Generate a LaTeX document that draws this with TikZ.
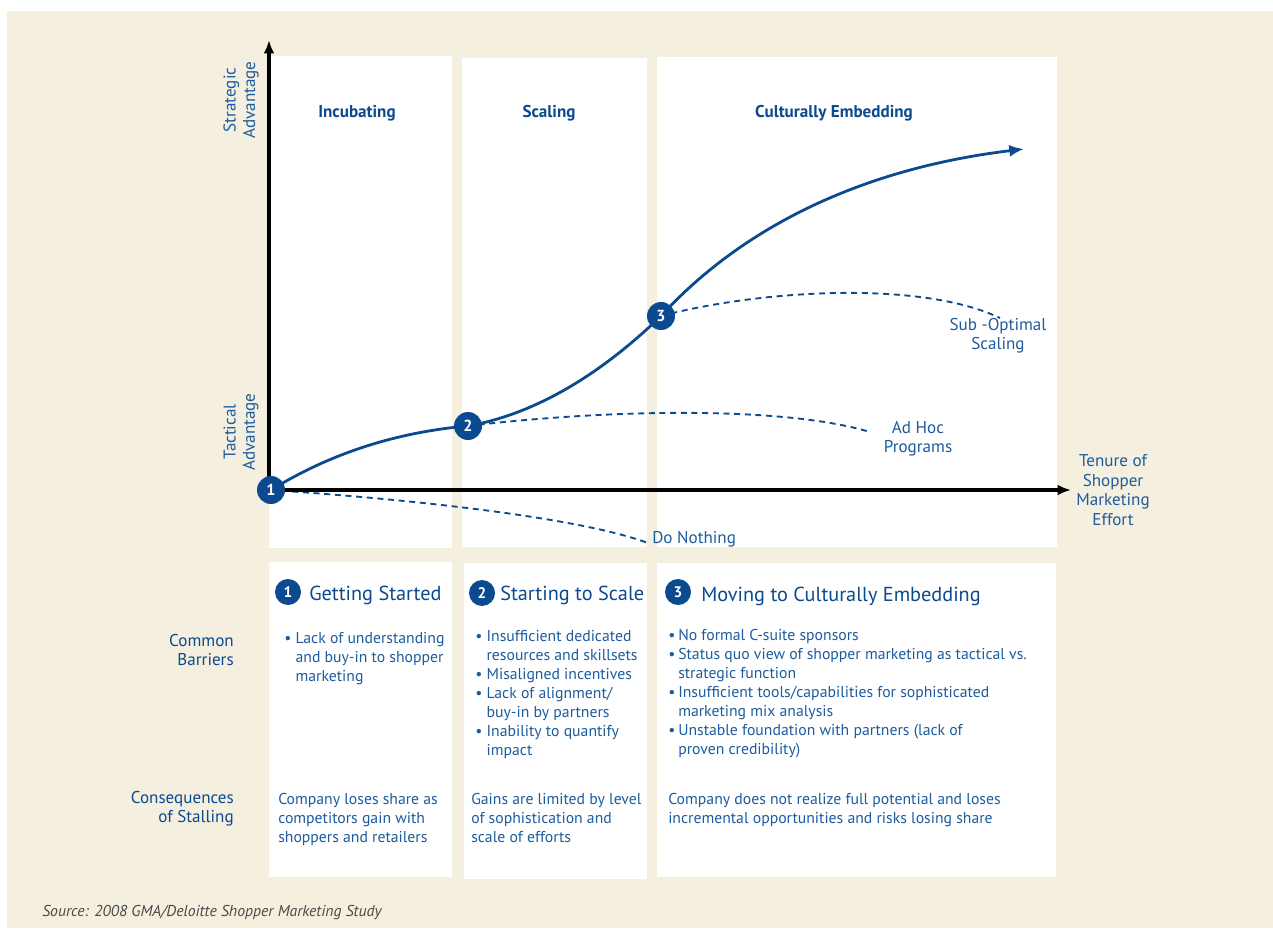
\documentclass[tikz,border=0pt]{standalone}
\usepackage{fontspec}
\setmainfont{PT Sans}
\usetikzlibrary{arrows.meta}
\definecolor{cream}{HTML}{F5EFDF}
\definecolor{navy}{HTML}{0B4A8E}
\definecolor{txt}{HTML}{1D5C9E}
\definecolor{srcgray}{HTML}{4A4A4A}
\pgfdeclarelayer{back}
\pgfdeclarelayer{mid}
\pgfsetlayers{back,mid,main}
\newcommand{\bl}{\makebox[8.5pt][l]{\textbullet}}
\newcommand{\bs}{\makebox[7.5pt][l]{\textbullet}}
\begin{document}
\begin{tikzpicture}[x=0.75pt,y=-0.75pt,
  panel/.style={fill=white,draw=none},
  axisline/.style={line width=3pt,black,-{Latex[length=10pt,width=8pt]}},
  maincurve/.style={line width=2.1pt,navy},
  dashcurve/.style={line width=1.4pt,navy,dash pattern=on 4.5pt off 3.5pt},
  num/.style={circle,fill=navy,text=white,inner sep=0pt,minimum size=21pt,font=\fontsize{12}{12}\selectfont\bfseries},
  numb/.style={circle,fill=navy,text=white,inner sep=0pt,minimum size=19.5pt,font=\fontsize{11.5}{11.5}\selectfont\bfseries},
  ttl/.style={text=navy,font=\fontsize{12.8}{14}\selectfont\bfseries},
  lbl/.style={text=txt,font=\fontsize{12.8}{14.6}\selectfont,inner sep=0pt},
  rowlbl/.style={text=navy,font=\fontsize{12.8}{14.4}\selectfont,inner sep=0pt,align=right,anchor=east},
  hdr/.style={text=navy,font=\fontsize{15.2}{17}\selectfont,inner sep=0pt,anchor=west},
  body/.style={text=txt,font=\fontsize{11.8}{14.3}\selectfont,inner sep=0pt,align=left,anchor=north west}
]
\useasboundingbox (0,0) rectangle (1273,937);
\begin{pgfonlayer}{back}
\fill[white] (0,0) rectangle (1273,937);
\fill[cream] (7,11) rectangle (1273,928);
\fill[panel] (269,56) rectangle (452,548);
\fill[panel] (462,58) rectangle (647,547);
\fill[panel] (657,57) rectangle (1057,547);
\fill[panel] (269,562) rectangle (452,877);
\fill[panel] (464,563) rectangle (647,879);
\fill[panel] (657,563) rectangle (1056,877);
\end{pgfonlayer}

% axes
\coordinate (o) at (269,490);
\coordinate (ytip) at (269,40);
\coordinate (xtip) at (1071,490);
\coordinate (obot) at (269,492);
\draw[axisline] (obot) -- (ytip);
\draw[axisline] (o) -- (xtip);

% milestone circles
\node[num] (c1) at (271,490) {1};
\node[num] (c2) at (468,426) {2};
\node[num] (c3) at (661,316) {3};
\coordinate (cend) at (1024,149);
\coordinate (dn) at (648,543);
\coordinate (ah) at (870,432);
\coordinate (so) at (1000,318);

\begin{pgfonlayer}{mid}
\draw[maincurve] (c1.center) .. controls (310,466) and (375,434) .. (c2.center);
\draw[maincurve] (c2.center) .. controls (535,414) and (600,375) .. (c3.center);
\draw[maincurve,-{Latex[length=11pt,width=9pt]}] (c3.center) .. controls (735,235) and (850,170) .. (cend);
\draw[dashcurve] (c1.center) .. controls (420,500) and (580,518) .. (dn);
\draw[dashcurve] (c2.center) .. controls (600,410) and (780,405) .. (ah);
\draw[dashcurve] (c3.center) .. controls (760,290) and (920,280) .. (so);
\end{pgfonlayer}

% titles
\node[ttl] (t1) at (357,113) {Incubating};
\node[ttl] (t2) at (549,113) {Scaling};
\node[ttl] (t3) at (834,113) {Culturally Embedding};

% axis labels
\node[lbl,rotate=90,align=center] (ys) at (241,100) {Strategic\\Advantage};
\node[lbl,rotate=90,align=center] (yt) at (241,432) {Tactical\\Advantage};
\node[lbl,align=center] (xl) at (1113,490) {Tenure of\\Shopper\\Marketing\\Effort};
\node[lbl,anchor=west] (ldn) at (652,539) {Do Nothing};
\node[lbl,align=center] (lah) at (918,439) {Ad Hoc\\Programs};
\node[lbl,align=center] (lso) at (998,336) {Sub -Optimal\\Scaling};

% row labels
\node[rowlbl] (rb) at (234,650) {Common\\Barriers};
\node[rowlbl] (rc) at (234,809) {Consequences\\of Stalling};

% headers
\node[numb] (h1) at (288,592) {1};
\node[hdr] (hh1) at (309,595) {Getting Started};
\node[numb] (h2) at (482,593) {2};
\node[hdr] (hh2) at (500,595) {Starting to Scale};
\node[numb] (h3) at (678,592) {3};
\node[hdr] (hh3) at (701,596) {Moving to Culturally Embedding};

% barriers
\node[body] (b1) at (284,632) {\bl Lack of understanding\\\hphantom{\bl}and buy-in to shopper\\\hphantom{\bl}marketing};
\node[body] (b2) at (475,630) {\bl Insufficient dedicated\\\hphantom{\bl}resources and skillsets\\\bl Misaligned incentives\\\bl Lack of alignment/\\\hphantom{\bl}buy-in by partners\\\bl Inability to quantify\\\hphantom{\bl}impact};
\node[body] (b3) at (668,629) {\bs No formal C-suite sponsors\\\bs Status quo view of shopper marketing as tactical vs.\\\hphantom{\bs}strategic function\\\bs Insufficient tools/capabilities for sophisticated\\\hphantom{\bs}marketing mix analysis\\\bs Unstable foundation with partners (lack of\\\hphantom{\bs}proven credibility)};

% consequences
\node[body] (s1) at (278,793) {Company loses share as\\competitors gain with\\shoppers and retailers};
\node[body] (s2) at (471,793) {Gains are limited by level\\of sophistication and\\scale of efforts};
\node[body] (s3) at (668,793) {Company does not realize full potential and loses\\incremental opportunities and risks losing share};

% source
\node[anchor=west,inner sep=0pt,text=srcgray,font=\fontsize{11.8}{13}\selectfont\itshape] (src) at (42,913) {Source: 2008 GMA/Deloitte Shopper Marketing Study};
\end{tikzpicture}
\end{document}
